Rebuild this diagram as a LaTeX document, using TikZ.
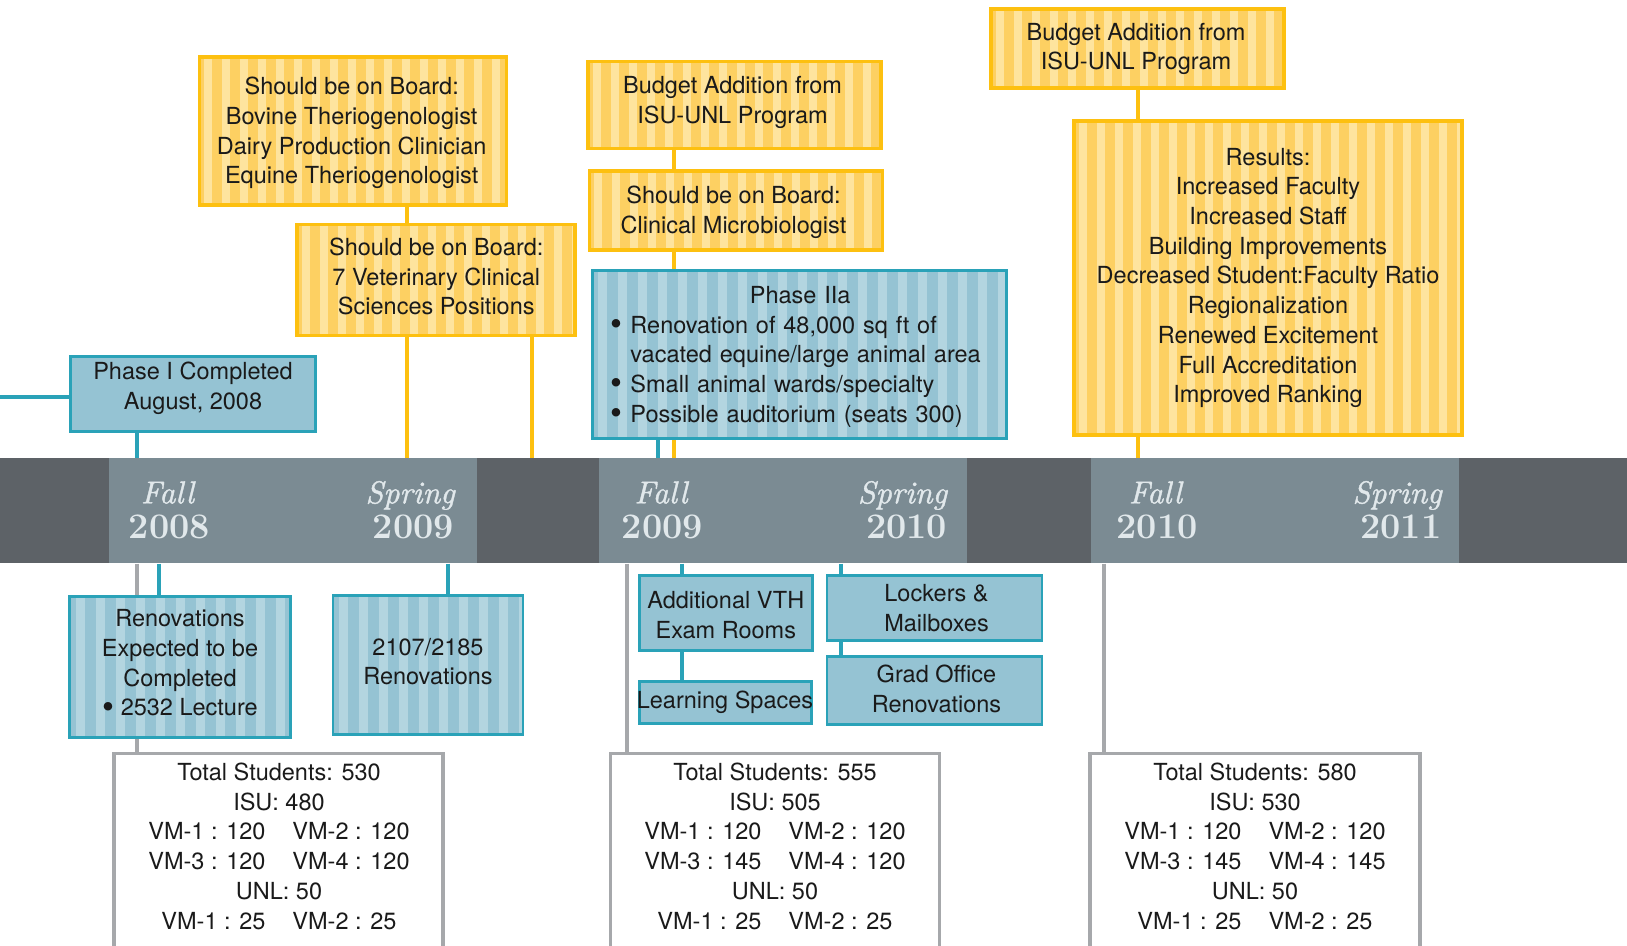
\documentclass[tikz,border=0pt]{standalone}
\usepackage{fontspec}
\newfontfamily\sansf{TeX Gyre Heros}
\newfontface\seasonf{lmroman10-italic.otf}[FakeBold=1.2]
\usetikzlibrary{calc}
\definecolor{bardark}{HTML}{5D6267}
\definecolor{barlight}{HTML}{7B8B93}
\definecolor{bartext}{HTML}{E1E8EB}
\definecolor{ydark}{HTML}{FDD062}
\definecolor{ylight}{HTML}{FEE49E}
\definecolor{yborder}{HTML}{FDC010}
\definecolor{bdark}{HTML}{95C3D3}
\definecolor{blight}{HTML}{B3D5E0}
\definecolor{bborder}{HTML}{2AA2B8}
\definecolor{grayc}{HTML}{A6A8AB}
\definecolor{textc}{HTML}{1A1A1A}
\newcommand{\bigbul}{\raisebox{-2.2pt}{\scalebox{1.45}{\textbullet}}}
\pgfdeclarelayer{bg}
\pgfsetlayers{bg,main}
\tikzset{
  boxtext/.style={font=\sansf\fontsize{23.5}{29.7}\selectfont, text=textc, align=center, inner sep=0pt, anchor=north},
  shapebox/.style={rectangle, inner sep=0pt},
  ybox/.style={shapebox, draw=yborder, line width=3.5pt, fill=ydark,
    path picture={\foreach \k in {0,...,24}{\fill[ylight] ($(path picture bounding box.north west)+({\k*18+5},-5)$) rectangle ++(8,400);}}},
  bstripe/.style={shapebox, draw=bborder, line width=2.8pt, fill=bdark,
    path picture={\foreach \k in {0,...,22}{\fill[blight] ($(path picture bounding box.north west)+({\k*20+6},-5)$) rectangle ++(9,400);}}},
  bsolid/.style={shapebox, draw=bborder, line width=2.8pt, fill=bdark},
  sbox/.style={shapebox, draw=grayc, line width=3.5pt, fill=white, anchor=north},
  yline/.style={draw=yborder, line width=4pt},
  bline/.style={draw=bborder, line width=4pt},
  gryline/.style={draw=grayc, line width=4pt},
  season/.style={font=\seasonf\fontsize{31.6}{32}\selectfont, text=bartext, inner sep=0pt},
  yearlab/.style={font=\fontsize{36}{36}\selectfont\bfseries, text=bartext, inner sep=0pt},
}
\begin{document}
\begin{tikzpicture}[x=1pt,y=-1pt]
\path[use as bounding box] (0,0) rectangle (1627,945);
\clip (0,0) rectangle (1627,945);
% timeline bar
\node[shapebox, fill=bardark, minimum width=1627, minimum height=105.6] (bar) at (813.5,510.5) {};
\node[shapebox, fill=barlight, minimum width=368.3, minimum height=105.6] (seg1) at (293.15,510.5) {};
\node[shapebox, fill=barlight, minimum width=368.3, minimum height=105.6] (seg2) at (782.85,510.5) {};
\node[shapebox, fill=barlight, minimum width=368.5, minimum height=105.6] (seg3) at (1274.75,510.5) {};
\node[season, anchor=base] (fa08) at (167.5,503.3) {Fall};
\node[yearlab, anchor=base] (yr08) at (169.5,538.3) {2008};
\node[season, anchor=base east] (sp09) at (455,503.3) {Spring};
\node[yearlab, anchor=base east] (yr09) at (454,538.3) {2009};
\node[season, anchor=base] (fa09) at (661,503.3) {Fall};
\node[yearlab, anchor=base] (yr09b) at (662.5,538.3) {2009};
\node[season, anchor=base east] (sp10) at (947.3,503.3) {Spring};
\node[yearlab, anchor=base east] (yr10) at (947.3,538.3) {2010};
\node[season, anchor=base] (fa10) at (1155.4,503.3) {Fall};
\node[yearlab, anchor=base] (yr10b) at (1157,538.3) {2010};
\node[season, anchor=base east] (sp11) at (1442,503.3) {Spring};
\node[yearlab, anchor=base east] (yr11) at (1441.5,538.3) {2011};
% yellow boxes
\node[ybox, minimum width=307, minimum height=148] (y1) at (352.75,131) {};
\node[boxtext] (y1t) at (351.7,77.1) {Should be on Board:\\Bovine Theriogenologist\\Dairy Production Clinician\\Equine Theriogenologist};
\node[ybox, minimum width=278, minimum height=111] (y2) at (436.1,280) {};
\node[boxtext] (y2t) at (436.3,237.8) {Should be on Board:\\7 Veterinary Clinical\\Sciences Positions};
\node[ybox, minimum width=293, minimum height=87] (y3) at (734.35,105) {};
\node[boxtext] (y3t) at (732.5,76.1) {Budget Addition from\\ISU-UNL Program};
\node[ybox, minimum width=293, minimum height=79] (y4) at (735.85,210.5) {};
\node[boxtext] (y4t) at (733.5,186.1) {Should be on Board:\\Clinical Microbiologist};
\node[ybox, minimum width=293, minimum height=79] (yb) at (1137.65,48.3) {};
\node[boxtext] (ybt) at (1136,22.8) {Budget Addition from\\ISU-UNL Program};
\node[ybox, minimum width=388, minimum height=314] (res) at (1268.15,278) {};
\node[boxtext] (rest) at (1268,147.8) {Results:\\Increased Faculty\\Increased Staff\\Building Improvements\\Decreased Student:Faculty Ratio\\Regionalization\\Renewed Excitement\\Full Accreditation\\Improved Ranking};
% blue boxes above the bar
\node[bsolid, minimum width=245, minimum height=75] (p1) at (193,394) {};
\node[boxtext] (p1t) at (193,361.8) {Phase I Completed\\August, 2008};
\node[bstripe, minimum width=414, minimum height=168] (p2a) at (799.25,354.3) {};
\node[boxtext, anchor=north west, text width=400, align=left] (p2at) at (610.5,286.1) {\makebox[379pt][c]{Phase IIa}\\\bigbul\ Renovation of 48,000 sq ft of\\\hphantom{\bigbul\ }vacated equine/large animal area\\\bigbul\ Small animal wards/specialty\\\bigbul\ Possible auditorium (seats 300)};
% blue boxes below the bar
\node[bstripe, minimum width=221, minimum height=141] (ren) at (180,666.65) {};
\node[boxtext] (rent) at (180,609.5) {Renovations\\Expected to be\\Completed\\\bigbul\ 2532 Lecture};
\node[bstripe, minimum width=190, minimum height=139] (r21) at (428,665.15) {};
\node[boxtext] (r21t) at (428,637.8) {2107/2185\\Renovations};
\node[bsolid, minimum width=173, minimum height=75] (avt) at (726.3,613) {};
\node[boxtext] (avtt) at (725.8,591.1) {Additional VTH\\Exam Rooms};
\node[bsolid, minimum width=172, minimum height=42] (lsp) at (725.2,702.5) {};
\node[boxtext] (lspt) at (725,691.1) {Learning Spaces};
\node[bsolid, minimum width=215, minimum height=65] (lck) at (934.5,608.3) {};
\node[boxtext] (lckt) at (936.5,584.5) {Lockers \&\\Mailboxes};
\node[bsolid, minimum width=215, minimum height=68] (grd) at (934.5,690.5) {};
\node[boxtext] (grdt) at (936.5,665.1) {Grad Office\\Renovations};
% student totals
\node[sbox, minimum width=329, minimum height=300] (st1) at (278.65,751.5) {};
\node[boxtext] (st1t) at (279,762.8) {Total Students: 530\\ISU: 480\\VM-1 : 120\hspace{27pt}VM-2 : 120\\VM-3 : 120\hspace{27pt}VM-4 : 120\\UNL: 50\\VM-1 : 25\hspace{27pt}VM-2 : 25};
\node[sbox, minimum width=329, minimum height=300] (st2) at (775,751.5) {};
\node[boxtext] (st2t) at (775,762.8) {Total Students: 555\\ISU: 505\\VM-1 : 120\hspace{27pt}VM-2 : 120\\VM-3 : 145\hspace{27pt}VM-4 : 120\\UNL: 50\\VM-1 : 25\hspace{27pt}VM-2 : 25};
\node[sbox, minimum width=330, minimum height=300] (st3) at (1255,751.5) {};
\node[boxtext] (st3t) at (1255,762.8) {Total Students: 580\\ISU: 530\\VM-1 : 120\hspace{27pt}VM-2 : 120\\VM-3 : 145\hspace{27pt}VM-4 : 145\\UNL: 50\\VM-1 : 25\hspace{27pt}VM-2 : 25};
% connectors
\begin{pgfonlayer}{bg}
\coordinate (lft) at (0,396.7);
\draw[bline] (lft) -- (p1.west |- lft);
\draw[bline] (136.7,0 |- p1.south) -- (136.7,0 |- bar.north);
\draw[yline] (406.7,0 |- y1.south) -- (406.7,0 |- y2.north);
\draw[yline] (406.7,0 |- y2.south) -- (406.7,0 |- bar.north);
\draw[yline] (531.7,0 |- y2.south) -- (531.7,0 |- bar.north);
\draw[yline] (674,0 |- y3.south) -- (674,0 |- y4.north);
\draw[yline] (674,0 |- y4.south) -- (674,0 |- bar.north);
\draw[bline] (658.3,0 |- p2a.south) -- (658.3,0 |- bar.north);
\draw[yline] (1137.7,0 |- yb.south) -- (1137.7,0 |- res.north);
\draw[yline] (1137.5,0 |- res.south) -- (1137.5,0 |- bar.north);
\draw[gryline] (136.7,0 |- bar.south) -- (136.7,0 |- st1.north);
\draw[bline] (159,0 |- bar.south) -- (159,0 |- ren.north);
\draw[bline] (447.7,0 |- bar.south) -- (447.7,0 |- r21.north);
\draw[gryline] (626.7,0 |- bar.south) -- (626.7,0 |- st2.north);
\draw[bline] (681.7,0 |- bar.south) -- (681.7,0 |- avt.north);
\draw[bline] (681.7,0 |- avt.south) -- (681.7,0 |- lsp.north);
\draw[bline] (840.7,0 |- bar.south) -- (840.7,0 |- lck.north);
\draw[bline] (840.7,0 |- lck.south) -- (840.7,0 |- grd.north);
\draw[gryline] (1104,0 |- bar.south) -- (1104,0 |- st3.north);
\end{pgfonlayer}
\end{tikzpicture}
\end{document}
